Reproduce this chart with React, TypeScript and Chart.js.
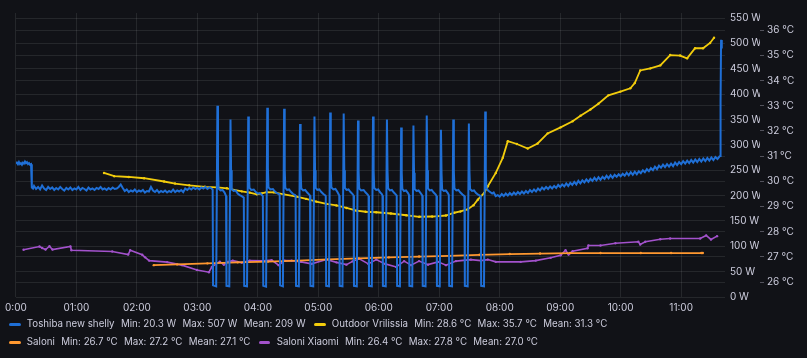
import { useEffect, useRef } from 'react';
import { Chart, registerables } from 'chart.js';
Chart.register(...registerables);

// ---- axis ticks ----
const hourTicks = [0, 60, 120, 180, 240, 300, 360, 420, 480, 540, 600, 660];
const wattTicks = [0, 50, 100, 150, 200, 250, 300, 350, 400, 450, 500, 550];
const tempTicks = [26, 27, 28, 29, 30, 31, 32, 33, 34, 35, 36];

// ---- series: [minutes since 00:00, value] ----
const toshibaW: [number, number][] = [
  [0,263],[1,265],[2,262],[3,266],[4,262],[5,264],[6,261],[7,265],[8,263],[9,267],[10,264],[11,266],[12,262],[13,264],[14,261],[15,262],
  [15.8,216],[17,214],[18,219],[20,213],[22,217],[24,212],[26,220],[28,214],[30,211],[32,217],[34,213],[36,216],[38,211],[40,215],[42,212],[44,217],[46,213],[48,210],[50,215],[52,212],[54,216],[56,211],[58,214],[60,212],[62,217],[64,211],[66,215],[68,213],[70,210],[72,216],[74,212],[76,214],[78,211],[80,215],[82,213],[84,217],[86,212],[88,214],[90,211],[92,215],[94,212],[96,216],[98,213],[100,214],[102,217],[104,222],[106,215],[108,209],[110,212],[112,207],[114,210],[116,208],[118,212],[120,207],[122,210],[124,208],[126,211],[128,206],[130,209],[132,208],[134,217],[136,210],[138,207],[140,211],[142,206],[144,209],[146,207],[148,210],[150,206],[152,209],[154,207],[156,212],[158,207],[160,210],[162,208],[164,211],[166,207],[168,214],[170,211],[172,215],[174,212],[176,216],[178,213],[180,215],[182,212],[184,216],[186,214],[188,217],[190,213],[192,216],[194,214],[195.2,212],
  [195.6,23],[198.7,21],[199.9,377],[200.5,250],[201.1,214],[203,210],[205,211],[207,206],[208.5,199],
  [208.9,22],[211.7,21],[212.9,350],[213.5,250],[214.1,213],[216,209],[218,210],[220,204],[222,201],[224,199],[226.1,196],
  [226.5,22],[229.3,21],[230.5,356],[231.1,255],[231.7,215],[233.5,211],[236,212],[238,207],[240,204],[242,205],[244,201],[245.0,199],
  [245.4,22],[248.2,20.3],[249.4,373],[250,255],[250.6,216],[252.5,212],[255,213],[257,208],[259,205],[261,203],[261.7,200],
  [262.1,23],[264.9,21],[266.1,371],[266.7,252],[267.3,215],[269,211],[271,212],[273,207],[275,203],[277,201],[277.5,199],
  [277.9,22],[280.7,21],[281.9,341],[282.5,248],[283.1,214],[285,210],[287,211],[289,206],[291,202],[291.8,200],
  [292.2,22],[295,21],[296.2,356],[296.8,250],[297.4,215],[299,211],[301,212],[303,207],[305,203],[307,200],[307.4,199],
  [307.8,22],[310.6,21],[311.8,364],[312.4,252],[313,216],[315,212],[317,213],[319,207],[320.3,202],[320.8,200],
  [321.2,22],[324,21],[325.2,362],[325.8,250],[326.4,215],[328,211],[330,212],[332,207],[334,203],[335.0,200],
  [335.4,22],[338.2,21],[339.4,348],[340,248],[340.6,214],[342.5,210],[345,211],[347,206],[349,202],[349.9,199],
  [350.3,22],[353.1,21],[354.3,356],[354.9,250],[355.5,215],[357.5,211],[359.5,212],[361.5,206],[363,203],[363.7,200],
  [364.1,22],[366.9,21],[368.1,350],[368.7,248],[369.3,214],[371,210],[373,211],[375,206],[377,202],[377.8,200],
  [378.2,22],[381,21],[382.2,334],[382.8,245],[383.4,213],[385,209],[387,210],[389,205],[390.0,201],
  [390.4,22],[393.2,21],[394.4,338],[395,245],[395.6,213],[397.5,209],[399.5,210],[401.5,205],[403.2,200],
  [403.6,22],[406.4,21],[407.6,358],[408.2,250],[408.8,214],[410.5,210],[412.5,211],[414.5,206],[416.5,202],[417.3,199],
  [417.7,22],[420.5,21],[421.7,330],[422.3,243],[422.9,212],[424.5,209],[426.5,210],[428.5,205],[429.5,201],
  [429.9,22],[432.7,21],[433.9,350],[434.5,248],[435.1,214],[437,210],[439,211],[441,206],[443,202],[445.0,199],
  [445.4,22],[448.2,21],[449.4,342],[450,246],[450.6,213],[452.5,209],[454.5,210],[456.5,205],[458.5,202],[461.2,199],
  [461.6,22],[464.4,21],[465.6,366],[466.2,252],[466.8,215],[468.5,210],[470.5,207],[472.5,204],[474,206],[476,199],[478,201],
  [480,198],[482,203],[484,199],[486,204],[488,200],[490,205],[492,201],[494,206],[496,202],[498,207],[500,203],[502,208],[504,204],[506,209],[508,205],[510,211],[512,207],[514,212],[516,208],[518,214],[520,210],[522,216],[524,212],[526,217],[528,213],[530,218],[532,214],[534,219],[536,215],[538,221],[540,217],[542,222],[544,218],[546,224],[548,219],[550,225],[552,221],[554,227],[556,222],[558,229],[560,224],[562,230],[564,226],[566,232],[568,227],[570,233],[572,229],[574,235],[576,230],[578,236],[580,231],[582,237],[584,233],[586,239],[588,234],[590,240],[592,235],[594,241],[596,237],[598,242],[600,238],[602,243],[604,239],[606,245],[608,240],[610,246],[612,241],[614,247],[616,242],[618,248],[620,244],[622,250],[624,246],[626,252],[628,248],[630,254],[632,250],[634,257],[636,252],[638,259],[640,255],[642,261],[644,256],[646,262],[648,257],[650,263],[652,258],[654,265],[656,260],[658,266],[660,262],[662,268],[664,263],[666,269],[668,264],[670,270],[672,265],[674,271],[676,266],[678,272],[680,267],[682,273],[684,268],[686,274],[688,269],[690,275],[692,270],[694,276],[696,272],[698,277],
  [698.6,278],[699.1,383],[699.6,507],[700.1,490],[700.5,497],
];

const outdoorC: [number, number][] = [
  [87.4,30.33],[97.6,30.20],[112,30.17],[127.2,30.12],[147,29.99],[157.9,29.91],[172,29.84],[187.5,29.78],[200,29.76],[209.3,29.72],[224.1,29.60],[232,29.55],[238.9,29.48],[244,29.52],[248.8,29.57],[255.7,29.56],[266,29.48],[278.4,29.39],[288,29.30],[298.2,29.19],[308,29.10],[318,29.04],[328,28.94],[337.8,28.83],[347,28.79],[357.5,28.77],[372,28.72],[387.2,28.65],[400,28.59],[413,28.60],[426.7,28.64],[434.9,28.75],[441,28.80],[448.1,28.88],[454,29.05],[458.3,29.27],[464.6,29.54],[468.2,29.80],[476.1,30.33],[483,30.93],[488,31.59],[497,31.48],[507.8,31.30],[517.6,31.50],[527.5,31.90],[540.4,32.14],[552.3,32.38],[560.2,32.60],[570,32.85],[577.9,33.08],[587.8,33.41],[599.7,33.56],[609.6,33.69],[614,33.90],[619.4,34.40],[629.4,34.48],[639.3,34.60],[649.1,35.01],[659,34.99],[665.9,34.88],[673.8,35.28],[681.7,35.28],[688.7,35.49],[692.6,35.70],
];

const saloniC: [number, number][] = [
  [136.8,26.67],[160,26.70],[190,26.74],[220,26.78],[250,26.81],[280,26.85],[310,26.90],[340,26.94],[370,26.98],[400,27.01],[430,27.04],[460,27.08],[490,27.11],[520,27.13],[550,27.15],[580,27.15],[620,27.15],[650,27.15],[680,27.15],[681.5,27.15],
];

const xiaomiC: [number, number][] = [
  [7.6,27.28],[23.4,27.41],[26,27.35],[29.4,27.29],[33.3,27.42],[36.3,27.29],[54.1,27.41],[55.1,27.26],[95.6,27.21],[111.4,27.09],[113.4,27.26],[125.3,27.08],[128.2,26.98],[132.2,26.85],[150,26.79],[164.8,26.67],[179.6,26.48],[191.5,26.39],[194.4,26.60],[202.3,26.81],[206.3,26.69],[210,26.80],[215.2,26.85],[224.1,26.77],[232,26.85],[245.8,26.84],[253.7,26.87],[260.7,26.67],[266.6,26.85],[273.5,26.85],[283,26.80],[293.3,26.72],[308.1,26.89],[318,26.78],[327.9,26.69],[334,26.82],[340.7,26.92],[349.7,26.72],[357.5,26.89],[366.4,26.72],[377.3,26.60],[385.2,26.83],[392.1,26.67],[400,26.83],[408.9,26.69],[418.8,26.80],[426.7,26.67],[436.6,26.83],[451.4,26.89],[461.3,26.85],[468.2,26.89],[476.1,26.80],[500.8,26.80],[515.7,26.85],[530.5,26.96],[540.4,27.06],[545.3,27.26],[548.3,27.09],[552.3,27.22],[567.1,27.34],[568,27.45],[580,27.45],[594.8,27.54],[617.5,27.60],[619.4,27.49],[624.4,27.60],[639.3,27.70],[649.1,27.73],[678.9,27.73],[684.8,27.85],[689.6,27.69],[695.6,27.82],
];

// ---- legend ----
const seriesNames = ['Toshiba new shelly', 'Outdoor Vrilissia', 'Saloni', 'Saloni Xiaomi'];
const seriesColors = ['#1f6fd6', '#f2cc0c', '#ff9830', '#a352cc'];
const seriesStats = [
  ['Min: 20.3 W', 'Max: 507 W', 'Mean: 209 W'],
  ['Min: 28.6 °C', 'Max: 35.7 °C', 'Mean: 31.3 °C'],
  ['Min: 26.7 °C', 'Max: 27.2 °C', 'Mean: 27.1 °C'],
  ['Min: 26.4 °C', 'Max: 27.8 °C', 'Mean: 27.0 °C'],
];
const legendRows = [[0, 1], [2, 3]];

const TEXT = '#ccccdc';
const GRID = 'rgba(240,250,255,0.09)';
const FONT = { family: 'Inter, sans-serif', size: 10 };

function pts(a: [number, number][]) {
  return a.map(([x, y]) => ({ x, y }));
}
function hh(v: number) {
  const h = Math.round(v / 60);
  return v === 0 ? '0:00' : (h < 10 ? '0' + h : '' + h) + ':00';
}

export default function App() {
  const ref = useRef<HTMLCanvasElement>(null);
  useEffect(() => {
    document.body.style.margin = '0';
    document.body.style.background = '#111217';
    const chart = new Chart(ref.current!, {
      type: 'line',
      data: {
        datasets: [
          { label: seriesNames[0], data: pts(toshibaW), yAxisID: 'yW', borderColor: seriesColors[0], borderWidth: 2, pointRadius: 0, tension: 0 },
          { label: seriesNames[1], data: pts(outdoorC), yAxisID: 'yT', borderColor: seriesColors[1], backgroundColor: seriesColors[1], borderWidth: 1.8, pointRadius: 1.2, pointBorderWidth: 0, tension: 0 },
          { label: seriesNames[2], data: pts(saloniC), yAxisID: 'yT', borderColor: seriesColors[2], backgroundColor: seriesColors[2], borderWidth: 1.8, pointRadius: 1.2, pointBorderWidth: 0, tension: 0 },
          { label: seriesNames[3], data: pts(xiaomiC), yAxisID: 'yT', borderColor: seriesColors[3], backgroundColor: seriesColors[3], borderWidth: 1.6, pointRadius: 1.2, pointBorderWidth: 0, tension: 0 },
        ] as any,
      },
      options: {
        animation: false,
        responsive: false,
        maintainAspectRatio: false,
        layout: { padding: { left: 13, top: 13, right: 0, bottom: 0 } },
        plugins: { legend: { display: false }, tooltip: { enabled: false } },
        scales: {
          x: {
            type: 'linear', min: 0, max: 703.5,
            grid: { color: GRID, drawTicks: false },
            border: { display: false },
            ticks: { color: TEXT, font: FONT, padding: 5, maxRotation: 0, autoSkip: false, callback: (v: any) => hh(Number(v)) },
            afterBuildTicks: (s: any) => { s.ticks = hourTicks.map((v) => ({ value: v })); },
            afterFit: (s: any) => { s.height = 19; },
          },
          yW: {
            type: 'linear', position: 'right', min: 0, max: 560,
            grid: { color: GRID, drawTicks: false },
            border: { display: false },
            ticks: { color: TEXT, font: FONT, padding: 5, callback: (v: any) => v + ' W' },
            afterBuildTicks: (s: any) => { s.ticks = wattTicks.map((v) => ({ value: v })); },
            afterFit: (s: any) => { s.width = 35; },
          },
          yT: {
            type: 'linear', position: 'right', min: 25.405, max: 36.68,
            grid: { color: GRID, drawTicks: true, tickLength: 4, tickColor: 'rgba(204,204,220,0.35)' },
            border: { display: false },
            ticks: { color: TEXT, font: FONT, padding: 3, callback: (v: any) => v + ' °C' },
            afterBuildTicks: (s: any) => { s.ticks = tempTicks.map((v) => ({ value: v })); },
            afterFit: (s: any) => { s.width = 47; },
          },
        },
      } as any,
    });
    return () => chart.destroy();
  }, []);

  return (
    <div style={{ position: 'relative', width: 807, height: 358, background: '#111217', overflow: 'hidden', fontFamily: 'Inter, sans-serif' }}>
      <canvas ref={ref} width={807} height={316} style={{ display: 'block', width: 807, height: 316 }} />
      {legendRows.map((row, ri) => (
        <div key={ri} style={{ position: 'absolute', left: 9, top: 315.3 + ri * 18, height: 18, display: 'flex', alignItems: 'center', gap: 8.5, whiteSpace: 'nowrap' }}>
          {row.map((si) => (
            <div key={si} style={{ display: 'flex', alignItems: 'center', gap: 6.3, fontSize: 9.75, color: TEXT, lineHeight: '18px' }}>
              <span style={{ display: 'inline-block', width: 11.5, height: 3.3, borderRadius: 1.5, background: seriesColors[si] }} />
              <span>{seriesNames[si]}</span>
              {seriesStats[si].map((s, k) => (<span key={k}>{s}</span>))}
            </div>
          ))}
        </div>
      ))}
    </div>
  );
}
